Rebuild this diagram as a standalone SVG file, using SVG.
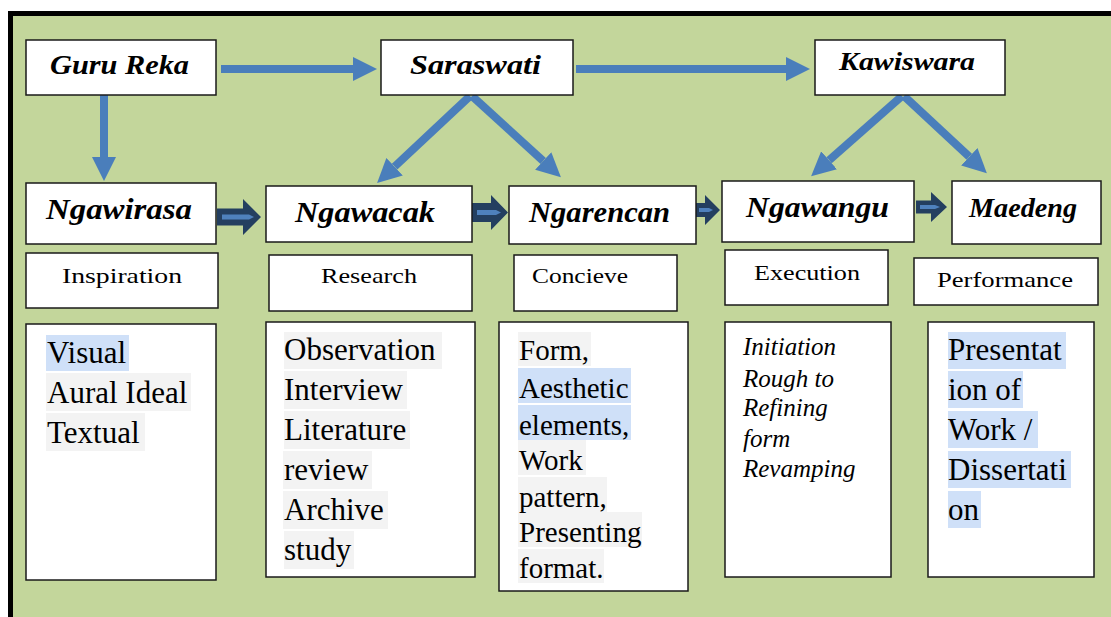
<svg xmlns="http://www.w3.org/2000/svg" width="1111" height="617" viewBox="0 0 1111 617" font-family="Liberation Serif, DejaVu Serif, serif">
  <defs>
    <marker id="head" viewBox="0 0 3 3" refX="0" refY="1.5" markerWidth="3" markerHeight="3" orient="auto" markerUnits="strokeWidth">
      <path d="M0,0 L3,1.5 L0,3 Z" fill="#4a7ebb"/>
    </marker>
    <style>
      .box { fill: #ffffff; stroke: #1a1a1a; stroke-width: 1.5; }
      .conn { stroke: #4a7ebb; stroke-width: 8; fill: none; marker-end: url(#head); }
      .blk { fill: #243f60; }
      .blkin { fill: #4f81bd; }
      .hd { font-weight: bold; font-style: italic; }
      .lbl { font-size: 21px; }
      .body { font-size: 31px; }
      .body3 { font-size: 29px; }
      .ital { font-size: 25px; font-style: italic; }
      .hlb { fill: #cfe0f8; }
      .hlg { fill: #f3f3f3; }
    </style>
  </defs>

  <!-- background and frame -->
  <rect x="0" y="0" width="1111" height="617" fill="#ffffff"/>
  <rect x="10" y="13" width="1101" height="604" fill="#c3d69b"/>
  <rect x="8" y="11" width="1103" height="5" fill="#000"/>
  <rect x="8" y="11" width="5" height="606" fill="#000"/>

  <!-- connectors -->
  <g id="connectors">
    <line class="conn" x1="221" y1="69" x2="353" y2="69"/>
    <line class="conn" x1="576" y1="69" x2="786" y2="69"/>
    <line class="conn" x1="104" y1="95" x2="104" y2="157"/>
    <line class="conn" x1="470" y1="96" x2="394.6" y2="166.7"/>
    <line class="conn" x1="472" y1="96" x2="543.2" y2="161"/>
    <line class="conn" x1="902" y1="96" x2="829.1" y2="160.3"/>
    <line class="conn" x1="904" y1="96" x2="969.3" y2="156.8"/>
    <!-- block arrows -->
    <polygon class="blk" points="217,208.5 243,208.5 243,199 261,217 243,235 243,225.5 217,225.5"/>
    <polygon class="blkin" points="222,214.5 249,214.5 254,217 249,219.5 222,219.5"/>
    <polygon class="blk" points="472,203 491,203 491,195 508,212.5 491,230 491,222 472,222"/>
    <polygon class="blkin" points="477,210 496,210 501,212.5 496,215 477,215"/>
    <polygon class="blk" points="696,203 705,203 705,195 720,210 705,225 705,217 696,217"/>
    <polygon class="blkin" points="699,208 709,208 713,210 709,212 699,212"/>
    <polygon class="blk" points="916,200.5 931,200.5 931,192 947,207 931,222 931,213.5 916,213.5"/>
    <polygon class="blkin" points="920,205 935,205 940,207 935,209 920,209"/>
  </g>

  <!-- top row -->
  <g id="guru-reka">
    <rect class="box" x="26" y="40" width="190" height="55"/>
    <text class="hd" x="50" y="74" font-size="28" textLength="139" lengthAdjust="spacingAndGlyphs">Guru Reka</text>
  </g>
  <g id="saraswati">
    <rect class="box" x="381" y="40" width="192" height="55"/>
    <text class="hd" x="410" y="74" font-size="28" textLength="131" lengthAdjust="spacingAndGlyphs">Saraswati</text>
  </g>
  <g id="kawiswara">
    <rect class="box" x="815" y="40" width="190" height="55"/>
    <text class="hd" x="839" y="70" font-size="26" textLength="136" lengthAdjust="spacingAndGlyphs">Kawiswara</text>
  </g>

  <!-- middle row -->
  <g id="ngawirasa">
    <rect class="box" x="26" y="183" width="190" height="61"/>
    <text class="hd" x="46" y="219" font-size="29" textLength="146" lengthAdjust="spacingAndGlyphs">Ngawirasa</text>
  </g>
  <g id="ngawacak">
    <rect class="box" x="266" y="186" width="206" height="56"/>
    <text class="hd" x="295" y="222" font-size="29" textLength="140" lengthAdjust="spacingAndGlyphs">Ngawacak</text>
  </g>
  <g id="ngarencan">
    <rect class="box" x="509" y="186" width="187" height="58"/>
    <text class="hd" x="529" y="222" font-size="29" textLength="141" lengthAdjust="spacingAndGlyphs">Ngarencan</text>
  </g>
  <g id="ngawangu">
    <rect class="box" x="722" y="181" width="192" height="61"/>
    <text class="hd" x="746" y="217" font-size="29" textLength="143" lengthAdjust="spacingAndGlyphs">Ngawangu</text>
  </g>
  <g id="maedeng">
    <rect class="box" x="952" y="181" width="149" height="63"/>
    <text class="hd" x="969" y="217" font-size="27" textLength="108" lengthAdjust="spacingAndGlyphs">Maedeng</text>
  </g>

  <!-- labels -->
  <g id="inspiration">
    <rect class="box" x="26" y="253" width="192" height="55"/>
    <text class="lbl" x="62" y="283" textLength="120" lengthAdjust="spacingAndGlyphs">Inspiration</text>
  </g>
  <g id="research">
    <rect class="box" x="269" y="255" width="203" height="56"/>
    <text class="lbl" x="321" y="283" textLength="96" lengthAdjust="spacingAndGlyphs">Research</text>
  </g>
  <g id="concieve">
    <rect class="box" x="514" y="255" width="163" height="56"/>
    <text class="lbl" x="532" y="283" textLength="96" lengthAdjust="spacingAndGlyphs">Concieve</text>
  </g>
  <g id="execution">
    <rect class="box" x="725" y="250" width="163" height="55"/>
    <text class="lbl" x="754" y="280" textLength="106" lengthAdjust="spacingAndGlyphs">Execution</text>
  </g>
  <g id="performance">
    <rect class="box" x="914" y="258" width="184" height="47"/>
    <text class="lbl" x="937" y="287" textLength="136" lengthAdjust="spacingAndGlyphs">Performance</text>
  </g>

  <!-- content boxes -->
  <g id="inspiration-detail">
    <rect class="box" x="26" y="324" width="190" height="256"/>
    <rect class="hlb" x="46" y="335" width="83" height="36"/>
    <rect class="hlg" x="46" y="373" width="145" height="38"/>
    <rect class="hlg" x="46" y="413" width="99" height="38"/>
    <text class="body" x="47" y="363">Visual</text>
    <text class="body" x="47" y="403">Aural Ideal</text>
    <text class="body" x="47" y="443">Textual</text>
  </g>
  <g id="research-detail">
    <rect class="box" x="266" y="322" width="209" height="255"/>
    <rect class="hlg" x="284" y="332" width="158" height="37"/>
    <rect class="hlg" x="284" y="371" width="123" height="38"/>
    <rect class="hlg" x="284" y="411" width="126" height="38"/>
    <rect class="hlg" x="283" y="451" width="89" height="38"/>
    <rect class="hlg" x="283" y="491" width="105" height="38"/>
    <rect class="hlg" x="284" y="531" width="70" height="38"/>
    <text class="body" x="284" y="360">Observation</text>
    <text class="body" x="284" y="400">Interview</text>
    <text class="body" x="284" y="440">Literature</text>
    <text class="body" x="284" y="480">review</text>
    <text class="body" x="284" y="520">Archive</text>
    <text class="body" x="284" y="560">study</text>
  </g>
  <g id="concieve-detail">
    <rect class="box" x="499" y="322" width="189" height="269"/>
    <rect class="hlg" x="518" y="332" width="73" height="34"/>
    <rect class="hlb" x="518" y="368" width="113" height="35"/>
    <rect class="hlb" x="518" y="405" width="113" height="35"/>
    <rect class="hlg" x="518" y="440" width="68" height="35"/>
    <rect class="hlg" x="518" y="477" width="89" height="35"/>
    <rect class="hlg" x="518" y="512" width="124" height="35"/>
    <rect class="hlg" x="518" y="549" width="86" height="34"/>
    <text class="body3" x="519" y="360">Form,</text>
    <text class="body3" x="519" y="398">Aesthetic</text>
    <text class="body3" x="519" y="435">elements,</text>
    <text class="body3" x="519" y="470">Work</text>
    <text class="body3" x="519" y="507">pattern,</text>
    <text class="body3" x="519" y="542">Presenting</text>
    <text class="body3" x="519" y="578">format.</text>
  </g>
  <g id="execution-detail">
    <rect class="box" x="725" y="322" width="166" height="255"/>
    <text class="ital" x="743" y="355">Initiation</text>
    <text class="ital" x="743" y="387">Rough to</text>
    <text class="ital" x="743" y="416">Refining</text>
    <text class="ital" x="743" y="447">form</text>
    <text class="ital" x="743" y="477">Revamping</text>
  </g>
  <g id="performance-detail">
    <rect class="box" x="928" y="322" width="166" height="255"/>
    <rect class="hlb" x="948" y="332" width="118" height="37"/>
    <rect class="hlb" x="948" y="371" width="75" height="37"/>
    <rect class="hlb" x="948" y="411" width="90" height="37"/>
    <rect class="hlb" x="948" y="451" width="123" height="37"/>
    <rect class="hlb" x="948" y="491" width="33" height="37"/>
    <text class="body" x="948" y="360">Presentat</text>
    <text class="body" x="948" y="400">ion of</text>
    <text class="body" x="948" y="440">Work /</text>
    <text class="body" x="948" y="480">Dissertati</text>
    <text class="body" x="948" y="520">on</text>
  </g>
</svg>
